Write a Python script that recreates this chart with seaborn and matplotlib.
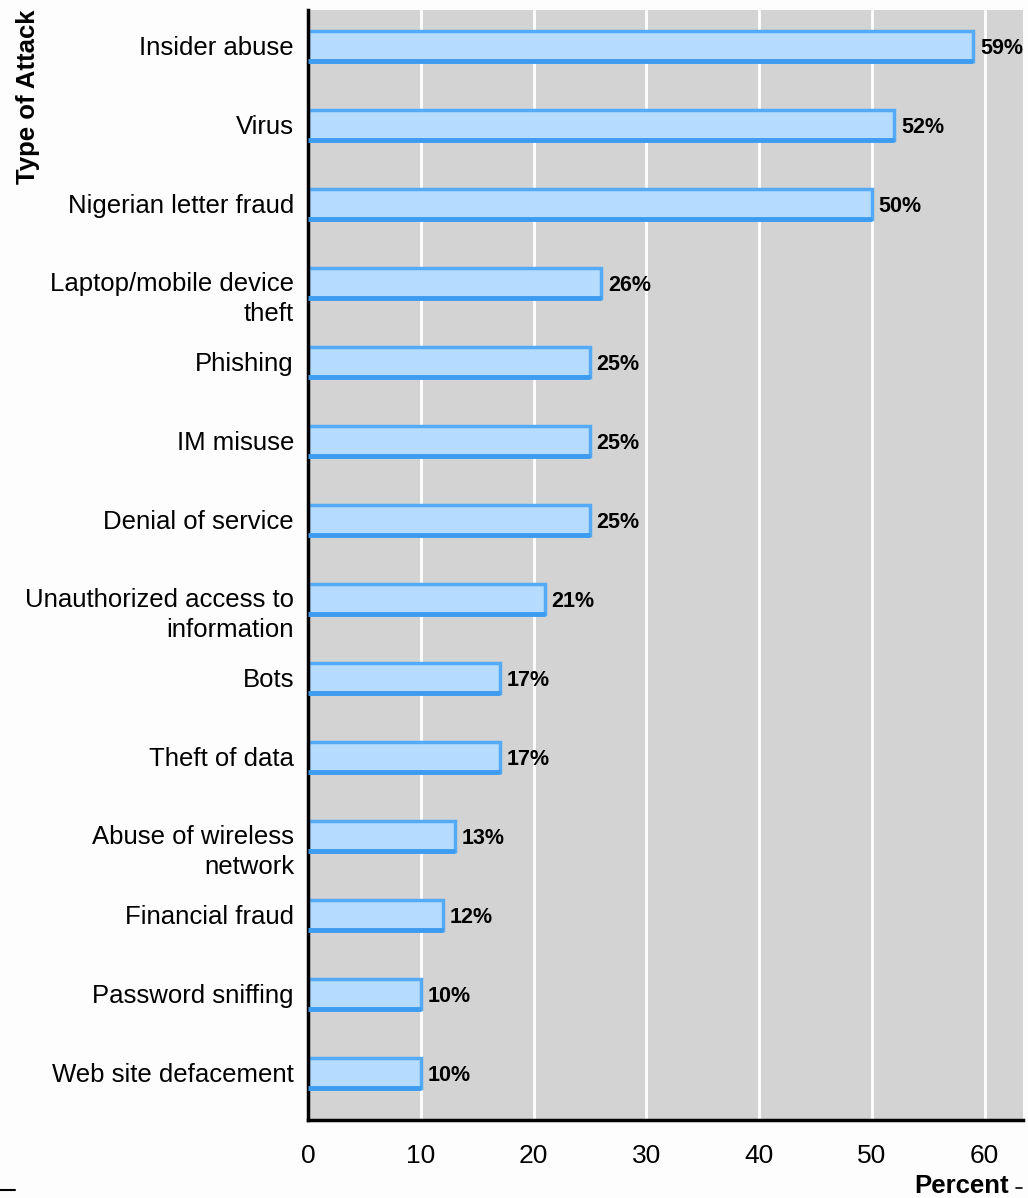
import matplotlib
matplotlib.use("Agg")
import matplotlib.pyplot as plt
import matplotlib.transforms as mtransforms
import seaborn as sns
import pandas as pd
from matplotlib.lines import Line2D

categories = ["Insider abuse", "Virus", "Nigerian letter fraud",
              "Laptop/mobile device\ntheft", "Phishing", "IM misuse",
              "Denial of service", "Unauthorized access to\ninformation",
              "Bots", "Theft of data", "Abuse of wireless\nnetwork",
              "Financial fraud", "Password sniffing", "Web site defacement"]
values = [59, 52, 50, 26, 25, 25, 25, 21, 17, 17, 13, 12, 10, 10]
xticks = [0, 10, 20, 30, 40, 50, 60]

df = pd.DataFrame({"cat": categories, "val": values})

sns.set_theme(style="white")
plt.rcParams['font.family'] = ['Liberation Sans', 'DejaVu Sans']
plt.rcParams['text.color'] = 'black'
plt.rcParams['xtick.color'] = 'black'
plt.rcParams['ytick.color'] = 'black'

fig = plt.figure(figsize=(10.28, 11.98), dpi=100)
ax = fig.add_axes([0.2996, 0.0651, 0.6954, 0.9266])
ax.set_facecolor("#d3d3d3")

sns.barplot(data=df, y="cat", x="val", orient="h", ax=ax, width=0.38,
            color="#b5dcff", edgecolor="#55aaf5", linewidth=2.5, saturation=1)

# darker bottom edge of each bar
for i, v in enumerate(values):
    ax.plot([0, v], [i + 0.19, i + 0.19], color="#3d9cf0", linewidth=3.5,
            solid_capstyle="butt", zorder=5)

ax.set_xlim(0, 63.4)
ax.set_ylim(len(categories) - 1 + 0.595, -0.456)
ax.set_xticks(xticks)
ax.set_xticklabels([str(t) for t in xticks], fontsize=19)
ax.tick_params(axis="y", length=0)
ax.set_yticklabels([])
ax.tick_params(axis="x", length=0, pad=17)
ax.xaxis.grid(True, color="white", linewidth=2)
ax.set_axisbelow(True)
for s in ["top", "right"]:
    ax.spines[s].set_visible(False)
ax.spines["left"].set_color("black")
ax.spines["left"].set_linewidth(2.5)
ax.spines["bottom"].set_color("black")
ax.spines["bottom"].set_linewidth(2.5)
ax.set_xlabel("")
ax.set_ylabel("")

# category labels: first line centred on the bar
ytr = ax.get_yaxis_transform()
for i, c in enumerate(categories):
    nlines = c.count("\n") + 1
    tr = mtransforms.offset_copy(ytr, fig=fig, x=-14, y=-2 - 14 * (nlines - 1), units="dots")
    ax.text(0, i, c, transform=tr, ha="right", va="center", fontsize=18.5,
            multialignment="right", linespacing=1.3)

for i, v in enumerate(values):
    ax.text(v + 0.6, i + 0.03, f"{v}%", va="center", ha="left", fontsize=15.5,
            fontweight="bold", family=["Liberation Sans Narrow", "Liberation Sans", "DejaVu Sans"])

fig.text(0.027, 0.992, "Type of Attack", rotation=90, ha="center", va="top",
         fontsize=18.5, fontweight="bold")
fig.text(0.981, 0.0, "Percent", ha="right", va="bottom",
         fontsize=18.5, fontweight="bold")

fig.add_artist(Line2D([0, 0.015], [0.0067, 0.0067], color="black", linewidth=1.5,
                      transform=fig.transFigure))
fig.add_artist(Line2D([0.988, 0.994], [0.0083, 0.0083], color="black", linewidth=1.2,
                      transform=fig.transFigure))

fig.savefig("out.png", dpi=100, facecolor="#fdfdfd")
